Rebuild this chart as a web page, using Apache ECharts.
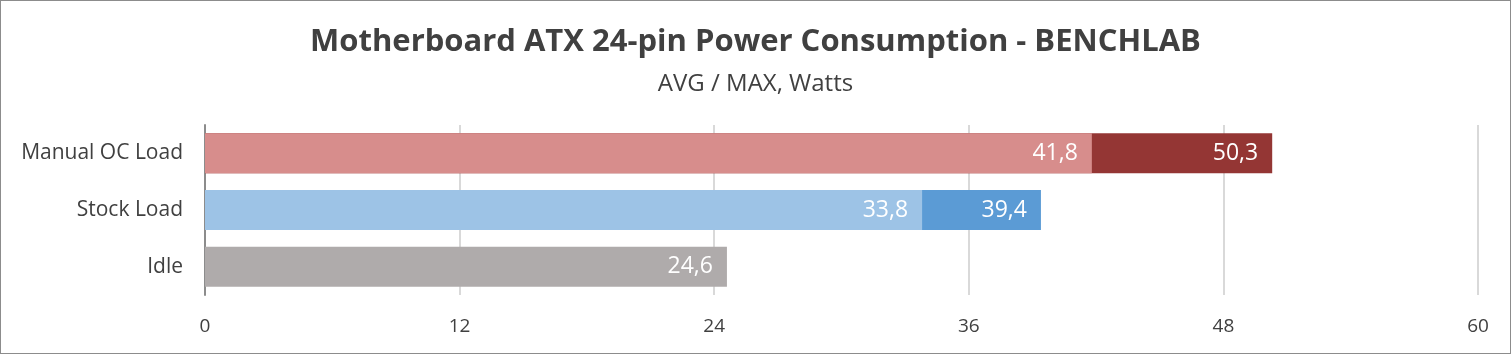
<!DOCTYPE html>
<html>
<head>
<meta charset="utf-8">
<script src="https://cdn.jsdelivr.net/npm/echarts@6/dist/echarts.min.js"></script>
<style>
  html, body { margin: 0; padding: 0; background: #fff; }
  #chart { width: 1511px; height: 354px; box-sizing: border-box; border: 1px solid #8c8c8c; }
</style>
</head>
<body>
<div id="chart"></div>
<script>
// categories top to bottom
const categories = ['Manual OC Load', 'Stock Load', 'Idle']
const avgValues = [41.8, 33.8, 24.6]
const maxValues = [50.3, 39.4, null]
const avgColors = ['#D78D8C', '#9DC3E6', '#AFABAB']
const maxColors = ['#943634', '#5B9BD5', '#7F7F7F']
const xTicks = [0, 12, 24, 36, 48, 60]

const font = 'Open Sans'
const fmt = function (p) { return String(p.value).replace('.', ',') }

const chart = echarts.init(document.getElementById('chart'))
chart.setOption({
  animation: false,
  title: [{
    text: 'Motherboard ATX 24-pin Power Consumption - BENCHLAB',
    left: 'center',
    top: 21,
    textStyle: { fontFamily: font, fontSize: 31, fontWeight: 'bold', color: '#404040' }
  }, {
    text: 'AVG / MAX, Watts',
    left: 'center',
    top: 66,
    textStyle: { fontFamily: font, fontSize: 24, fontWeight: 'normal', color: '#404040' }
  }],
  grid: { left: 204, right: 32, top: 124, bottom: 58 },
  xAxis: {
    type: 'value',
    min: xTicks[0],
    max: xTicks[xTicks.length - 1],
    interval: 12,
    axisLine: { show: false },
    axisTick: { show: false },
    splitLine: { lineStyle: { color: '#D9D9D9', width: 2 } },
    axisLabel: { fontFamily: font, fontSize: 19, color: '#404040', margin: 22 }
  },
  yAxis: {
    type: 'category',
    inverse: true,
    data: categories,
    axisLine: { show: true, lineStyle: { color: '#8c8c8c', width: 2 } },
    axisTick: { show: false },
    axisLabel: { fontFamily: font, fontSize: 21, color: '#404040', margin: 22 }
  },
  series: [{
    name: 'MAX',
    type: 'bar',
    barWidth: 40,
    barGap: '-100%',
    data: maxValues.map((v, i) => ({ value: v, itemStyle: { color: maxColors[i] } })),
    label: { show: true, position: 'insideRight', distance: 14, color: '#fff', fontFamily: font, fontSize: 23, formatter: fmt }
  }, {
    name: 'AVG',
    type: 'bar',
    barWidth: 40,
    barGap: '-100%',
    data: avgValues.map((v, i) => ({ value: v, itemStyle: { color: avgColors[i] } })),
    label: { show: true, position: 'insideRight', distance: 14, color: '#fff', fontFamily: font, fontSize: 23, formatter: fmt }
  }]
})
</script>
</body>
</html>
